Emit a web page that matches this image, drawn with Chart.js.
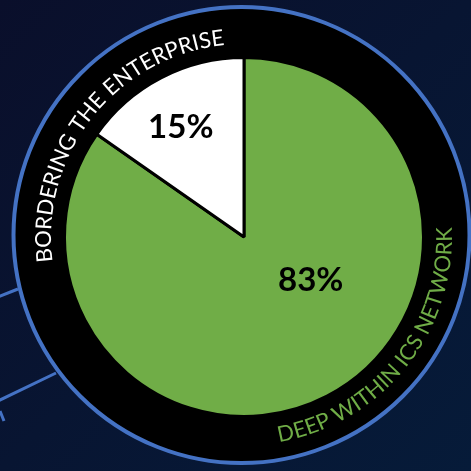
<!DOCTYPE html>
<html lang="en">
<head>
  <meta charset="UTF-8">
  <title>Where ICS assets sit</title>
  <script src="https://cdn.jsdelivr.net/npm/chart.js"></script>
  <style>
    html, body { margin: 0; padding: 0; background: #08142f; }
    #wrap { width: 471px; height: 471px; }
  </style>
</head>
<body>
  <div id="wrap"><canvas id="exposure" width="471" height="471"></canvas></div>

  <script>
    // values
    const categories = ['Deep within ICS network', 'Bordering the enterprise'];
    const shares = [83, 15];
    const valueLabels = shares.map(v => v + '%');
    const sliceColours = ['#70ad47', '#ffffff'];
    const captionColours = ['#70ad47', '#ffffff'];

    // dark backdrop, connector lines and the black band with its blue rim
    const backdrop = {
      id: 'backdrop',
      beforeDraw(chart) {
        const ctx = chart.ctx;
        const w = chart.width, h = chart.height;
        ctx.save();
        const g = ctx.createLinearGradient(0, 0, w, h);
        g.addColorStop(0, '#0a0f2b');
        g.addColorStop(1, '#061b39');
        ctx.fillStyle = g;
        ctx.fillRect(0, 0, w, h);

        ctx.strokeStyle = '#4472c4';
        ctx.lineWidth = 3;
        ctx.beginPath();
        ctx.moveTo(-2, 297); ctx.lineTo(18, 289);
        ctx.moveTo(-2, 401); ctx.lineTo(56, 373);
        ctx.moveTo(0, 411); ctx.lineTo(4, 421);
        ctx.stroke();

        ctx.beginPath();
        ctx.arc(241.5, 235, 228, 0, Math.PI * 2);
        ctx.fillStyle = '#000';
        ctx.fill();
        ctx.lineWidth = 4;
        ctx.stroke();
        ctx.restore();
      }
    };

    // text bent round the band, one letter at a time
    function drawRingText(ctx, text, cx, cy, spec, colour) {
      const chars = [...text];
      const dir = spec.to > spec.from ? 1 : -1;
      ctx.save();
      ctx.font = '22px Lato';
      ctx.fillStyle = colour;
      ctx.textAlign = 'center';
      ctx.textBaseline = 'alphabetic';
      const mid = spec.baseline + dir * 8;
      const span = Math.abs(spec.to - spec.from) * Math.PI / 180;
      const widths = chars.map(c => ctx.measureText(c).width);
      const total = widths.reduce((a, b) => a + b, 0);
      const gap = (span * mid - total) / (chars.length - 1);
      let a = spec.from * Math.PI / 180;
      chars.forEach((c, i) => {
        const half = widths[i] / 2 / mid;
        a += dir * half;
        ctx.save();
        ctx.translate(cx + spec.baseline * Math.cos(a), cy + spec.baseline * Math.sin(a));
        ctx.rotate(a + dir * Math.PI / 2);
        ctx.fillText(c, 0, 0);
        ctx.restore();
        a += dir * (half + gap / mid);
      });
      ctx.restore();
    }

    const captions = {
      id: 'captions',
      afterDatasetsDraw(chart, args, opts) {
        const ctx = chart.ctx;
        const meta = chart.getDatasetMeta(0);
        const cx = meta.data[0].x, cy = meta.data[0].y;

        categories.forEach((name, i) => {
          drawRingText(ctx, name.toUpperCase(), cx, cy, opts.ring[i], captionColours[i]);
        });

        ctx.save();
        ctx.font = 'bold 33px Lato';
        ctx.fillStyle = '#000';
        ctx.textAlign = 'center';
        ctx.textBaseline = 'alphabetic';
        meta.data.forEach((arc, i) => {
          const p = arc.getProps(['x', 'y', 'startAngle', 'endAngle', 'outerRadius']);
          const ang = (p.startAngle + p.endAngle) / 2 + opts.shift[i] * Math.PI / 180;
          const r = p.outerRadius * opts.radius[i];
          ctx.fillText(valueLabels[i], p.x + r * Math.cos(ang), p.y + r * Math.sin(ang) + 12);
        });
        ctx.restore();
      }
    };

    const ctx = document.getElementById('exposure').getContext('2d');
    new Chart(ctx, {
      type: 'pie',
      data: {
        labels: categories,
        datasets: [{
          data: shares,
          backgroundColor: sliceColours,
          borderColor: '#000',
          borderWidth: 3
        }]
      },
      options: {
        responsive: false,
        animation: false,
        events: [],
        layout: { padding: { left: 63, top: 56, right: 46, bottom: 53 } },
        plugins: {
          legend: { display: false },
          tooltip: { enabled: false },
          captions: {
            // angles in degrees, measured clockwise from 3 o'clock
            ring: [
              { from: 80.4, to: -2.8, baseline: 208 },
              { from: 172.7, to: 264.2, baseline: 193 }
            ],
            radius: [0.44, 0.71],
            shift: [-30, -2.2]
          }
        }
      },
      plugins: [backdrop, captions]
    });
  </script>
</body>
</html>
